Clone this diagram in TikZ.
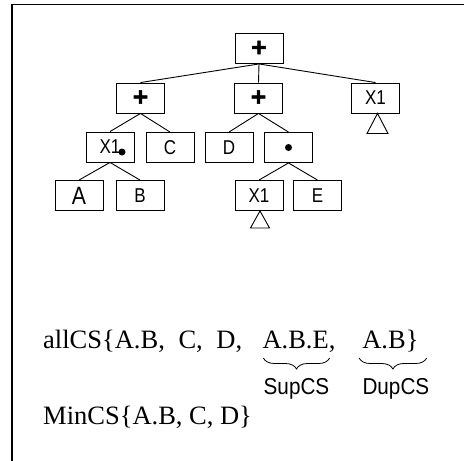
\documentclass[tikz,border=0pt]{standalone}
\usepackage{fontspec}
\setmainfont{Liberation Serif}
\setsansfont{Liberation Sans}
\newfontfamily\plusfont{Liberation Sans Bold}[FakeBold=2]
\newcommand{\cnd}[1]{\scalebox{0.85}[1]{#1}}
\usetikzlibrary{decorations.pathreplacing,calc}
\begin{document}
\begin{tikzpicture}[x=1pt,y=-1pt,
  box/.style={draw, line width=0.9pt, minimum width=48pt, minimum height=30pt, inner sep=0pt,
    font=\sffamily\fontsize{20}{22}\selectfont},
  plusbox/.style={box, font=\plusfont\fontsize{26}{26}\selectfont},
  bigbox/.style={box, font=\sffamily\fontsize{25}{25}\selectfont},
  edge/.style={line width=0.9pt},
  tri/.style={line width=0.9pt},
  serif/.style={font=\rmfamily\fontsize{26.5}{30}\selectfont, inner sep=0pt, anchor=base west},
  lab/.style={font=\sffamily\fontsize{23}{25}\selectfont, inner sep=0pt, anchor=base},
  br/.style={decorate, decoration={brace, amplitude=11pt, mirror}, line width=0.8pt}]
\useasboundingbox (0,0) rectangle (464,461);
\fill[white] (0,0) rectangle (464,461);
\draw[line width=1.5pt] (12,461) -- (12,4.5) -- (464,4.5);
% tree
\node[plusbox] (root) at (259,48.5) {+};
\node[plusbox] (p1) at (140.5,98) {+};
\node[plusbox] (p2) at (258.5,98) {+};
\node[box] (x1r) at (375.5,98) {\cnd{X1}};
\node[box] (x1d) at (110,147) {\cnd{X1}\hspace{17pt}};
\node[box] (c) at (170,147.5) {\cnd{C}};
\node[box] (d) at (229,147.5) {\cnd{D}};
\node[box] (dt) at (288.5,147.5) {};
\node[bigbox] (a) at (79,195.5) {\cnd{A}};
\node[box] (b) at (140,195.5) {\cnd{B}};
\node[box] (x1b) at (259,195.5) {\cnd{X1}};
\node[box] (e) at (317.5,195.5) {\cnd{E}};
\fill ([shift={(12,5)}]x1d.center) circle (3.5);
\fill (dt.center) circle (3.5);
\draw[edge] (root.south) -- (p1.north);
\draw[edge] (root.south) -- (p2.north);
\draw[edge] (root.south) -- (x1r.north);
\draw[edge] (p1.south) -- (x1d.north);
\draw[edge] (p1.south) -- (c.north);
\draw[edge] (p2.south) -- (d.north);
\draw[edge] (p2.south) -- (dt.north);
\draw[edge] (x1d.south) -- (a.north);
\draw[edge] (x1d.south) -- (b.north);
\draw[edge] (dt.south) -- (x1b.north);
\draw[edge] (dt.south) -- (e.north);
\draw[tri] ([xshift=2pt]x1r.south) -- ++(-10.5,20) -- ++(21,0) -- cycle;
\draw[tri] ([xshift=1pt]x1b.south) -- ++(-9.5,17) -- ++(19,0) -- cycle;
% text
\node[serif] (t1) at (43,348) {allCS\{A.B,};
\node[serif] (t2) at ($(t1.base east)+(13.25,0)$) {C,};
\node[serif] (t3) at ($(t2.base east)+(13.25,0)$) {D,};
\node[serif] (t4) at ($(t3.base east)+(19.9,0)$) {A.B.E,};
\node[serif] (t5) at ($(t4.base east)+(26.5,0)$) {A.B\}};
\coordinate (b1l) at ($(t4.base west)+(1,10)$);
\coordinate (b1r) at ($(t4.base east)+(-6,10)$);
\coordinate (b2l) at ($(t5.base west)+(-3,10)$);
\coordinate (b2r) at ($(t5.base east)+(8,10)$);
\draw[br] (b1l) -- (b1r);
\draw[br] (b2l) -- (b2r);
\node[lab] (sup) at ($(b1l)!0.5!(b1r)+(0,36)$) {\scalebox{0.9}[1]{SupCS}};
\node[lab] (dup) at ($(b2l)!0.5!(b2r)+(3,36)$) {\scalebox{0.9}[1]{DupCS}};
\node[serif] (m) at (43,424) {MinCS\{A.B, C, D\}};
\end{tikzpicture}
\end{document}
